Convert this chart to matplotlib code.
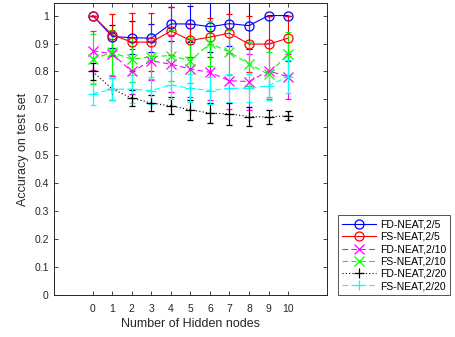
import matplotlib
matplotlib.use("Agg")
import matplotlib.pyplot as plt

plt.rcParams['font.family'] = ['Liberation Sans', 'DejaVu Sans']

# data
nodes = list(range(11))

fd5 = [1.0, 0.925, 0.921, 0.919, 0.970, 0.970, 0.960, 0.971, 0.964, 1.0, 1.0]
fd5_err = [0, 0.04, 0.06, 0.05, 0.06, 0.065, 0.09, 0.08, 0.085, 0, 0]
fs5 = [1.0, 0.931, 0.905, 0.905, 0.945, 0.911, 0.923, 0.937, 0.898, 0.898, 0.919]
fs5_err = [0, 0.075, 0.105, 0.105, 0.085, 0.06, 0.07, 0.07, 0.1, 0.1, 0.08]
fd10 = [0.874, 0.863, 0.80, 0.838, 0.826, 0.809, 0.797, 0.767, 0.764, 0.802, 0.781]
fd10_err = [0.07, 0.08, 0.08, 0.07, 0.1, 0.1, 0.1, 0.1, 0.1, 0.1, 0.08]
fs10 = [0.845, 0.868, 0.844, 0.853, 0.857, 0.838, 0.901, 0.869, 0.827, 0.79, 0.863]
fs10_err = [0.09, 0.08, 0.08, 0.08, 0.09, 0.08, 0.08, 0.08, 0.08, 0.08, 0.08]
fd20 = [0.80, 0.737, 0.705, 0.687, 0.677, 0.663, 0.651, 0.648, 0.639, 0.637, 0.642]
fd20_err = [0.03, 0.04, 0.03, 0.03, 0.03, 0.035, 0.035, 0.04, 0.035, 0.025, 0.015]
fs20 = [0.72, 0.737, 0.737, 0.732, 0.752, 0.74, 0.732, 0.74, 0.74, 0.749, 0.782]
fs20_err = [0.04, 0.04, 0.05, 0.05, 0.05, 0.05, 0.05, 0.05, 0.05, 0.05, 0.06]

series = [
    ("FD-NEAT,2/5", fd5, fd5_err, '#0000ff', '-', 'o'),
    ("FS-NEAT,2/5", fs5, fs5_err, '#ff0000', '-', 'o'),
    ("FD-NEAT,2/10", fd10, fd10_err, '#ff00ff', (0, (5, 3)), 'x'),
    ("FS-NEAT,2/10", fs10, fs10_err, '#00ff00', (0, (5, 3)), 'x'),
    ("FD-NEAT,2/20", fd20, fd20_err, '#000000', (0, (1, 2)), '+'),
    ("FS-NEAT,2/20", fs20, fs20_err, '#00ffff', (0, (5, 3)), '+'),
]

fig = plt.figure(figsize=(4.55, 3.37), dpi=100)
ax = fig.add_axes([0.118, 0.124, 0.601, 0.868])

handles = []
for name, vals, err, col, ls, mk in series:
    c = ax.errorbar(nodes, vals, yerr=err, color=col, ls=ls, lw=0.8,
                    marker=mk, ms=6.5, mfc='none', mew=0.9,
                    elinewidth=0.8, capsize=2.5, capthick=0.8)
    c[0].set_label(name)
    handles.append(c[0])

ax.set_xlim(-2, 12)
ax.set_ylim(0, 1.046)
ax.set_xticks(nodes)
ax.set_yticks([i / 10 for i in range(11)])
ax.set_yticklabels(['0', '0.1', '0.2', '0.3', '0.4', '0.5', '0.6', '0.7', '0.8', '0.9', '1'])
ax.tick_params(direction='in', top=True, right=True, labelsize=7.5,
               length=3, width=0.6, colors='#262626')
ax.tick_params(axis='x', pad=6)
for s in ax.spines.values():
    s.set_linewidth(0.7)
    s.set_color('#262626')

ax.set_xlabel("Number of Hidden nodes", fontsize=9, color='#262626', labelpad=3)
ax.set_ylabel("Accuracy on test set", fontsize=9, color='#262626', labelpad=4)

leg = ax.legend(handles=handles, loc='lower left', bbox_to_anchor=(1.04, 0.0),
                fontsize=7.5, frameon=True, fancybox=False, handlelength=3.2,
                borderpad=0.4, labelspacing=0.22, handletextpad=0.4,
                borderaxespad=0)
leg.get_frame().set_edgecolor('#262626')
leg.get_frame().set_linewidth(0.7)

fig.savefig("out.png", dpi=100)
